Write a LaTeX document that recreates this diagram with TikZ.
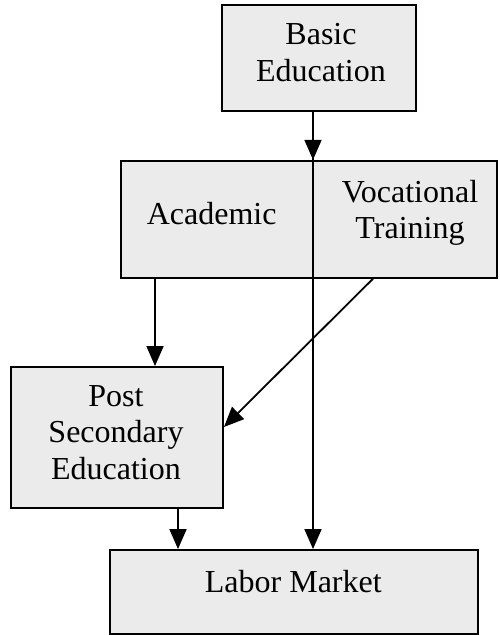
\documentclass[tikz,border=0pt]{standalone}
\usepackage{fontspec}
\setmainfont{Liberation Serif}
\usetikzlibrary{arrows.meta,calc}

\begin{document}
\begin{tikzpicture}[x=1pt,y=-1pt,
  box/.style={draw=black,line width=1.9pt,fill=boxgray,inner sep=0pt},
  lbl/.style={inner sep=0pt,align=center,font=\fontsize{32}{36.5}\selectfont},
  arr/.style={line width=1.8pt,-{Triangle[length=20pt,width=17pt]}}]
\definecolor{boxgray}{HTML}{EBEBEB}
\useasboundingbox[fill=white] (0,0) rectangle (499,635);

% boxes
\node[box,minimum width=194pt,minimum height=106pt] (basic) at (319,58) {};
\node[box,minimum width=376pt,minimum height=117pt] (mid) at (309,219.3) {};
\node[box,minimum width=212pt,minimum height=141pt] (post) at (117,437.5) {};
\node[box,minimum width=368pt,minimum height=84pt] (labor) at (294,592) {};

% labels
\node[lbl] (basictxt) at (321,52.8) {Basic\\Education};
\node[lbl] (acadtxt) at (211.7,213.2) {Academic};
\node[lbl] (voctxt) at (410,213) {Vocational\\Training};
\node[lbl] (posttxt) at (116,432.4) {Post\\Secondary\\Education};
\node[lbl] (labortxt) at (293.3,581.2) {Labor Market};

% guide positions for the vertical connectors
\coordinate (trunk) at (313,0);
\coordinate (acad) at (155,0);
\coordinate (voc) at (373,0);
\coordinate (postx) at (178,0);

% connectors
\draw[arr] (basic.south -| trunk) -- (mid.north -| trunk);
\draw[arr] (basic.south -| trunk) -- (labor.north -| trunk);
\draw[arr] (mid.south -| acad) -- (post.north -| acad);
\draw[arr] (mid.south -| voc) -- ($(post.east)+(0,-10.5)$);
\draw[arr] (post.south -| postx) -- (labor.north -| postx);
\end{tikzpicture}
\end{document}
